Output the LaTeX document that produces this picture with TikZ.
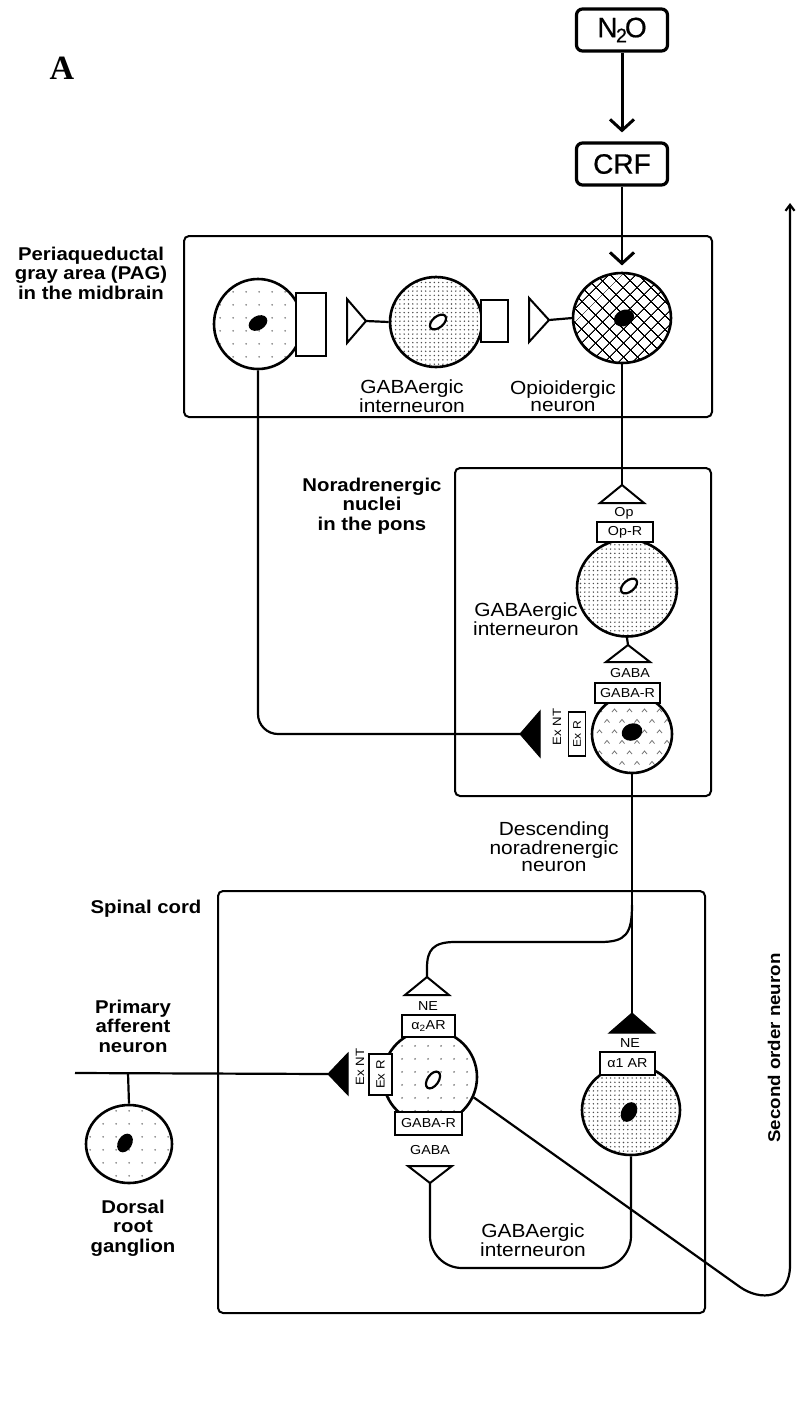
\documentclass[tikz,border=0pt]{standalone}
\usepackage{fontspec}
\setmainfont{Liberation Sans}[FakeStretch=1.1]
\newfontfamily\serifA{Liberation Serif}
\newfontfamily\boxfont{Liberation Sans}[FakeStretch=1.0,FakeBold=0.6]
\usetikzlibrary{arrows.meta,shapes.geometric,patterns.meta}
\newcommand\fsreg{\fontsize{19}{17.5}\selectfont}
\newcommand\fsbold{\fontsize{18.5}{19.5}\selectfont\bfseries}
\newcommand\fssmall{\fontsize{13}{13}\selectfont}
\begin{document}
\begin{tikzpicture}[x=1pt,y=-1pt,
  neu/.style={ellipse, draw, line width=2.6pt, inner sep=0pt},
  sparse/.style={pattern={Dots[distance=13pt,radius=1pt]}, pattern color=black!55},
  dense/.style={pattern={Dots[distance=4.3pt,radius=0.8pt]}, pattern color=black!70},
  hatchfill/.style={pattern={Hatch[angle=45,distance=10.5pt,line width=1.1pt]}, pattern color=black},
  nuc/.style={ellipse, fill=black, inner sep=0pt, minimum width=20pt, minimum height=14pt},
  wnuc/.style={ellipse, draw, line width=2.2pt, fill=white, inner sep=0pt, minimum width=19pt, minimum height=11pt},
  rbox/.style={draw, fill=white, line width=1.8pt, inner sep=0pt, font=\fssmall},
  region/.style={draw, line width=2pt, rounded corners=5pt, inner sep=0pt},
  drugbox/.style={draw, line width=3.2pt, rounded corners=6pt, minimum width=91pt, minimum height=42pt, inner sep=0pt, font=\fontsize{28}{28}\boxfont},
  axon/.style={line width=2.2pt},
  term/.style={draw, line width=2pt, fill=white, line join=miter},
  bterm/.style={draw, fill=black, line width=1pt, line join=miter},
  lbl/.style={align=center, font=\fsreg, inner sep=0pt},
  blbl/.style={align=center, font=\fsbold, inner sep=0pt},
  sml/.style={font=\fssmall, inner sep=0pt},
  barb/.style={-{Straight Barb[length=11pt,width=24pt,line width=3pt]}}
]
\useasboundingbox (0,0) rectangle (803,1422);

% title
\node[inner sep=0pt, font=\fontsize{34}{34}\serifA\bfseries] (title) at (62,68) {A};

% drug boxes
\node[drugbox] (n2o) at (622,30) {N\kern-1.5pt\textsubscript{2}\kern-2.5pt O};
\node[drugbox] (crf) at (622,164) {CRF};

% region boxes
\node[region, minimum width=528pt, minimum height=181pt] (pag) at (448,326.5) {};
\node[region, minimum width=256pt, minimum height=328pt] (pons) at (583,632) {};
\node[region, minimum width=487pt, minimum height=422pt] (spinal) at (461.5,1102) {};

% region labels
\node[blbl] (pagl) at (91,273) {Periaqueductal\\gray area (PAG)\\in the midbrain};
\node[blbl] (ponsl) at (372,506) {Noradrenergic\\nuclei\\in the pons};
\node[blbl] (spl) at (146,909) {Spinal cord};
\node[blbl] (pal) at (133,1026) {Primary\\afferent\\neuron};
\node[blbl] (drgl) at (133,1228) {Dorsal\\root\\ganglion};
\node[blbl, rotate=90, font=\fontsize{17}{17}\selectfont\bfseries] (sonl) at (774,1048) {Second order neuron};

% ---------- PAG ----------
\node[neu, sparse, minimum width=88pt, minimum height=90pt] (pag1) at (258,324) {};
\node[nuc, rotate=30] (pag1n) at (258,323) {};
\node[rbox, minimum width=30pt, minimum height=63pt] (pag1r) at (311,324.5) {};

\node[neu, dense, minimum width=92pt, minimum height=90pt] (pag2) at (436,322) {};
\node[wnuc, rotate=40] (pag2n) at (438,322) {};
\node[rbox, minimum width=27pt, minimum height=42pt] (pag2r) at (494.5,321) {};

\node[neu, hatchfill, minimum width=98pt, minimum height=90pt] (pag3) at (622,318) {};
\node[nuc, rotate=25, minimum width=21pt, minimum height=16pt] (pag3n) at (624,318) {};

\coordinate (t1) at (366,321);
\coordinate (t2) at (549,320);
\draw[term] (t1) -- ++(-19,-22) -- ++(0,44) -- cycle;
\draw[term] (t2) -- ++(-20,-22) -- ++(0,44) -- cycle;
\draw[axon] (t1) -- (pag2.west);
\draw[axon] (t2) -- (pag3.west);

\node[lbl] (pag2l) at (412,396) {GABAergic\\interneuron};
\node[lbl] (pag3l) at (563,396) {Opioidergic\\neuron};

% drug arrows
\draw[line width=3pt, barb, shorten >=9pt] (n2o) -- (crf);
\draw[line width=2.6pt, barb, shorten >=7pt] (crf) -- (pag3);

% ---------- Pons ----------
\coordinate (opA) at (622,485);
\draw[term] (opA) -- ++(-22,18) -- ++(44,0) -- cycle;
\draw[axon] (pag3.south) -- (opA);
\node[sml] (opl) at (624,513) {Op};

\node[neu, dense, minimum width=100pt, minimum height=97pt] (ponsg) at (627,588) {};
\node[wnuc, rotate=40] (ponsgn) at (629,586) {};
\node[rbox, minimum width=56pt, minimum height=20pt] (opr) at (625,532) {Op-R};
\node[lbl] (ponsgl) at (526,619) {GABAergic\\interneuron};

\coordinate (gA) at (628,645);
\draw[axon] (ponsg.south) -- (gA);
\draw[term] (gA) -- ++(-22,17) -- ++(44,0) -- cycle;
\node[sml] (gabal) at (630,673) {GABA};

% noradrenergic neuron with chevron texture
\begin{scope}
\clip (632,734) ellipse [x radius=40pt, y radius=39pt];
\foreach \j in {0,...,8}{
  \foreach \i in {0,...,6}{
    \pgfmathsetmacro\xx{592+15*\i+7.5*mod(\j,2)}
    \pgfmathsetmacro\yy{700+10.5*\j}
    \draw[black!55, line width=0.8pt] (\xx-2.5,\yy+1.5) -- (\xx,\yy-1.5) -- (\xx+2.5,\yy+1.5);
  }
}
\end{scope}
\node[neu, minimum width=80pt, minimum height=78pt] (na) at (632,734) {};
\node[nuc, rotate=20, minimum width=21pt, minimum height=17pt] (nan) at (632,732) {};
\node[rbox, minimum width=65pt, minimum height=20pt] (gabar) at (627.5,693) {GABA-R};
\node[rbox, rotate=90, minimum width=44pt, minimum height=17pt, font=\fontsize{11}{11}\selectfont] (exr1) at (577,734) {Ex R};
\node[sml, rotate=90, font=\fontsize{12}{12}\selectfont] (exnt1) at (557,727) {Ex NT};

\coordinate (pbA) at (520,734);
\draw[bterm] (pbA) -- ++(20,-23) -- ++(0,46) -- cycle;
\draw[axon, rounded corners=20pt] (pag1.south) -- (258,734) -- (pbA);

\node[lbl] (descl) at (554,847) {Descending\\noradrenergic\\neuron};

% ---------- Spinal cord ----------
\coordinate (neA) at (427,977);
\coordinate (nbA) at (632,1013);
\draw[axon] (na.south) -- (nbA);
\draw[axon] (632,905) .. controls (632,934) and (626,942) .. (600,942) -- (455,942) .. controls (433,942) and (427,950) .. (427,968) -- (neA);
\draw[term] (neA) -- ++(-22,18) -- ++(44,0) -- cycle;
\draw[bterm] (nbA) -- ++(-23,20) -- ++(46,0) -- cycle;
\node[sml] (nel1) at (428,1006) {NE};
\node[sml] (nel2) at (630,1043) {NE};

\node[neu, sparse, minimum width=94pt, minimum height=94pt] (spL) at (430,1077) {};
\node[wnuc, rotate=55] (spLn) at (433,1080) {};
\node[rbox, minimum width=53pt, minimum height=22pt] (a2r) at (428.5,1026) {α\textsubscript{2}AR};
\node[rbox, minimum width=67pt, minimum height=23pt] (gabar2) at (428.5,1123.5) {GABA-R};
\node[rbox, rotate=90, minimum width=41pt, minimum height=23pt, font=\fontsize{12}{12}\selectfont] (exr2) at (380.5,1074.5) {Ex R};
\node[sml, rotate=90, font=\fontsize{12}{12}\selectfont] (exnt2) at (360,1067) {Ex NT};

\coordinate (sbA) at (328,1074);
\draw[bterm] (sbA) -- ++(20,-21) -- ++(0,42) -- cycle;

\node[neu, dense, minimum width=98pt, minimum height=90pt] (spR) at (631,1110) {};
\node[nuc, rotate=60, minimum width=21pt, minimum height=15pt] (spRn) at (629,1112) {};
\node[rbox, minimum width=55pt, minimum height=23pt] (a1r) at (627.5,1063.5) {α1 AR};

\node[sml] (gabal2) at (430,1150) {GABA};
\coordinate (gsA) at (430,1183);
\draw[term] (gsA) -- ++(-22,-17) -- ++(44,0) -- cycle;
\draw[axon, rounded corners=32pt] (gsA) -- (430,1268) -- (631,1268) -- (spR.south);
\node[lbl] (spgl) at (533,1240) {GABAergic\\interneuron};

% primary afferent + DRG
\coordinate (paStart) at (75,1073);
\coordinate (paBr) at (128,1073);
\draw[axon] (paStart) -- (sbA);
\node[neu, sparse, minimum width=86pt, minimum height=78pt] (drg) at (129,1144) {};
\node[nuc, rotate=60, minimum width=20pt, minimum height=14pt] (drgn) at (125,1143) {};
\draw[axon] (paBr) -- (drg.north);

% second order neuron
\draw[axon, -{Straight Barb[length=6pt,width=9pt]}] (spL.-25) -- (740,1287) .. controls (760,1301) and (790,1300) .. (790,1265) -- (790,203);
\end{tikzpicture}
\end{document}
